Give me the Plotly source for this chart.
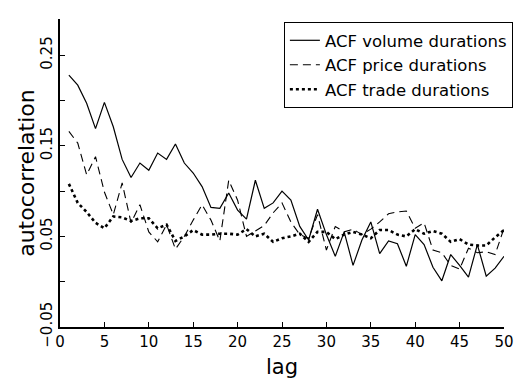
import plotly.graph_objects as go

lags = list(range(1, 51))

acf_volume = [0.228, 0.217, 0.197, 0.169, 0.198, 0.171, 0.135, 0.115, 0.131, 0.123,
              0.142, 0.135, 0.152, 0.131, 0.120, 0.105, 0.082, 0.081, 0.098, 0.079,
              0.069, 0.112, 0.081, 0.087, 0.100, 0.090, 0.061, 0.046, 0.080, 0.052,
              0.028, 0.055, 0.018, 0.046, 0.066, 0.031, 0.045, 0.042, 0.017, 0.052,
              0.041, 0.016, 0.001, 0.030, 0.018, 0.005, 0.041, 0.006, 0.015, 0.028]

acf_price = [0.166, 0.153, 0.118, 0.138, 0.099, 0.074, 0.109, 0.065, 0.085, 0.055,
             0.044, 0.063, 0.036, 0.050, 0.068, 0.085, 0.068, 0.045, 0.112, 0.090,
             0.050, 0.056, 0.062, 0.076, 0.087, 0.066, 0.052, 0.048, 0.074, 0.035,
             0.061, 0.055, 0.058, 0.052, 0.058, 0.066, 0.075, 0.077, 0.078, 0.059,
             0.065, 0.035, 0.032, 0.018, 0.014, 0.037, 0.032, 0.033, 0.030, 0.059]

acf_trade = [0.108, 0.087, 0.077, 0.065, 0.059, 0.072, 0.071, 0.067, 0.070, 0.070,
             0.059, 0.063, 0.045, 0.050, 0.057, 0.052, 0.052, 0.053, 0.053, 0.052,
             0.058, 0.050, 0.053, 0.044, 0.048, 0.050, 0.053, 0.044, 0.055, 0.055,
             0.047, 0.052, 0.055, 0.052, 0.048, 0.057, 0.057, 0.052, 0.050, 0.058,
             0.053, 0.056, 0.053, 0.044, 0.047, 0.041, 0.040, 0.040, 0.049, 0.057]

x_tick_vals = [0, 5, 10, 15, 20, 25, 30, 35, 40, 45, 50]
x_tick_text = ["0", "5", "10", "15", "20", "25", "30", "35", "40", "45", "50"]
y_tick_vals = [-0.05, 0.0, 0.05, 0.10, 0.15, 0.20, 0.25]
y_tick_text = ["\u22120.05", "", "0.05", "", "0.15", "", "0.25"]

FONT = "DejaVu Sans"

fig = go.Figure()
fig.add_trace(go.Scatter(x=lags, y=acf_volume, mode="lines", name="ACF volume durations",
                         line=dict(color="black", width=1.2)))
fig.add_trace(go.Scatter(x=lags, y=acf_price, mode="lines", name="ACF price durations",
                         line=dict(color="black", width=1.1, dash="8px,5px")))
fig.add_trace(go.Scatter(x=lags, y=acf_trade, mode="lines", name="ACF trade durations",
                         line=dict(color="black", width=2.6, dash="dot")))

fig.add_annotation(text="autocorrelation", xref="paper", yref="paper",
                   x=-0.077, y=0.5, xanchor="center", yanchor="middle",
                   textangle=-90, showarrow=False,
                   font=dict(size=22, family=FONT, color="black"))

fig.update_layout(
    width=525, height=390,
    margin=dict(l=60, r=13, t=19, b=63),
    plot_bgcolor="white", paper_bgcolor="white",
    font=dict(family=FONT, color="black", size=15),
    showlegend=True,
    legend=dict(x=1.02, y=0.99, xanchor="right", yanchor="top",
                bordercolor="black", borderwidth=1, bgcolor="white",
                font=dict(size=16.5, family=FONT), tracegroupgap=0,
                itemwidth=30),
    xaxis=dict(range=[0, 50], tickvals=x_tick_vals, ticktext=x_tick_text,
               ticks="inside", ticklen=5, tickcolor="black", tickwidth=1,
               showline=True, linecolor="black", linewidth=1.5, mirror=False,
               showgrid=False, zeroline=False,
               title=dict(text="lag", font=dict(size=21), standoff=10),
               tickfont=dict(size=15)),
    yaxis=dict(range=[-0.05, 0.29], tickvals=y_tick_vals, ticktext=y_tick_text,
               ticks="inside", ticklen=5, tickcolor="black", tickwidth=1,
               showline=True, linecolor="black", linewidth=1.5, mirror=False,
               showgrid=False, zeroline=False, tickangle=-90,
               tickfont=dict(size=15)),
)

fig.write_html("out.html")
